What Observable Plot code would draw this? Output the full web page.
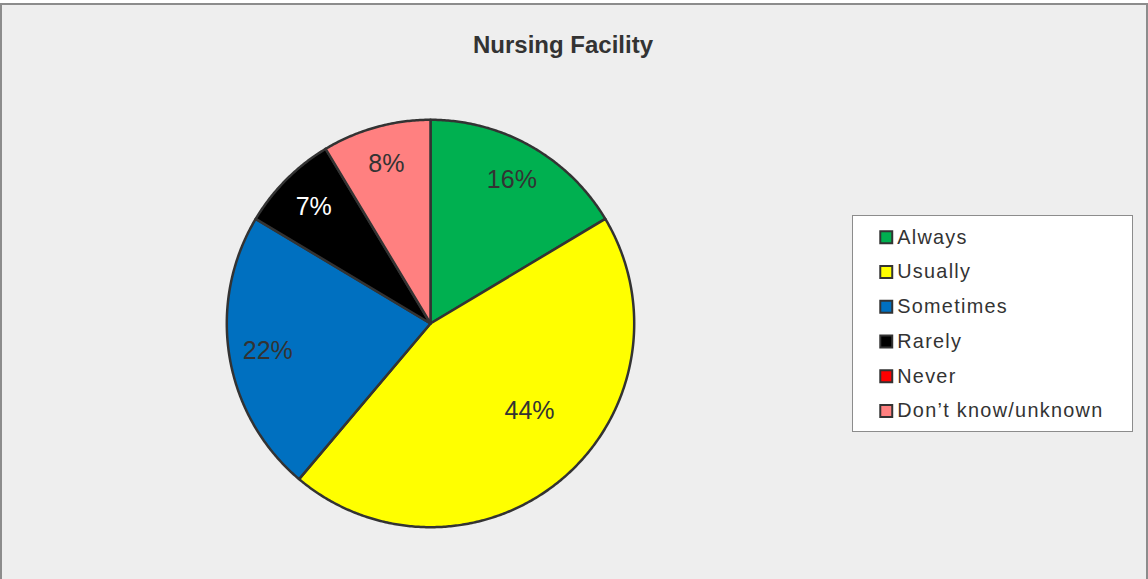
<!DOCTYPE html>
<html><head><meta charset="utf-8">
<script src="https://cdn.jsdelivr.net/npm/d3@7"></script>
<script src="https://cdn.jsdelivr.net/npm/@observablehq/plot@0.6"></script>
<style>
body{margin:0;background:#ffffff;font-family:"Liberation Sans",Arial,sans-serif;}
#frame{position:absolute;left:0px;top:3px;width:1148px;height:590px;background:#eeeeee;border:2px solid #8c8c8c;box-sizing:border-box;}
#title{position:absolute;left:563px;top:33px;transform:translateX(-50%);font-size:24px;line-height:24px;font-weight:bold;color:#333333;white-space:nowrap;}
#pie{position:absolute;left:210px;top:103px;width:440px;height:440px;}
#legend{position:absolute;left:852px;top:215px;width:281px;height:217px;background:#ffffff;border:1px solid #8c8c8c;box-sizing:border-box;}
#legend svg{position:absolute;left:-1px;top:-1px;}
#legend text{letter-spacing:1.3px;}
</style></head><body>
<div id="frame"></div>
<div id="title">Nursing Facility</div>
<div id="pie"></div>
<div id="legend"></div>
<script>
const categories = ["Always","Usually","Sometimes","Rarely","Never","Don\u2019t know/unknown"];
const values = [16.4, 44.7, 22.4, 7.8, 0, 8.6];
const labels = ["16%","44%","22%","7%","0%","8%"];
const colors = ["#00B050","#FFFF00","#0070C0","#000000","#FF0000","#FF8080"];

const arcs = d3.pie().sort(null).value(d => d)(values);
const rows = [];
const labelRows = [];
const maxVal = d3.max(values);
arcs.forEach((a, i) => {
  if (a.endAngle - a.startAngle <= 0) return;
  const cat = categories[i];
  const span = a.endAngle - a.startAngle;
  const n = Math.max(2, Math.ceil(span / (Math.PI / 360)));
  rows.push({cat, x: 0, y: 0});
  for (let k = 0; k <= n; k++) {
    const t = a.startAngle + span * k / n;
    rows.push({cat, x: Math.sin(t), y: Math.cos(t)});
  }
  rows.push({cat, x: 0, y: 0});
  const big = values[i] === maxVal;
  const mid = a.startAngle + span * (big ? 0.45 : 0.5);
  const rr = big ? 0.65 : 0.81;
  const light = d3.hsl(colors[i]).l < 0.3;
  labelRows.push({cat, text: labels[i], x: rr * Math.sin(mid), y: rr * Math.cos(mid), light});
});

const colorScale = {domain: categories, range: colors};

const pie = Plot.plot({
  width: 440, height: 440, margin: 0,
  x: {domain: [-1.08, 1.08], axis: null},
  y: {domain: [-1.08, 1.08], axis: null},
  color: colorScale,
  style: {background: "transparent", overflow: "visible", fontFamily: "Liberation Sans, Arial, sans-serif"},
  marks: [
    Plot.line(rows, {x: "x", y: "y", z: "cat", fill: "cat", stroke: "#333333", strokeWidth: 2.5, strokeLinejoin: "round"}),
    Plot.text(labelRows.filter(d => !d.light), {x: "x", y: "y", text: "text", fill: "#333333", fontSize: 25}),
    Plot.text(labelRows.filter(d => d.light), {x: "x", y: "y", text: "text", fill: "#ffffff", fontSize: 25})
  ]
});
document.getElementById("pie").appendChild(pie);

const legend = Plot.plot({
  width: 281, height: 217, margin: 0,
  y: {type: "point", domain: categories, range: [20, 198], padding: 0, axis: null},
  color: colorScale,
  style: {background: "transparent", overflow: "visible", fontFamily: "Liberation Sans, Arial, sans-serif"},
  marks: [
    Plot.dot(categories, {y: d => d, frameAnchor: "left", dx: 34, symbol: "square", r: 6.8, fill: d => d, stroke: "#333333", strokeWidth: 2}),
    Plot.text(categories, {y: d => d, text: d => d, frameAnchor: "left", dx: 45, textAnchor: "start", fill: "#333333", fontSize: 20})
  ]
});
document.getElementById("legend").appendChild(legend);
</script>
</body></html>
